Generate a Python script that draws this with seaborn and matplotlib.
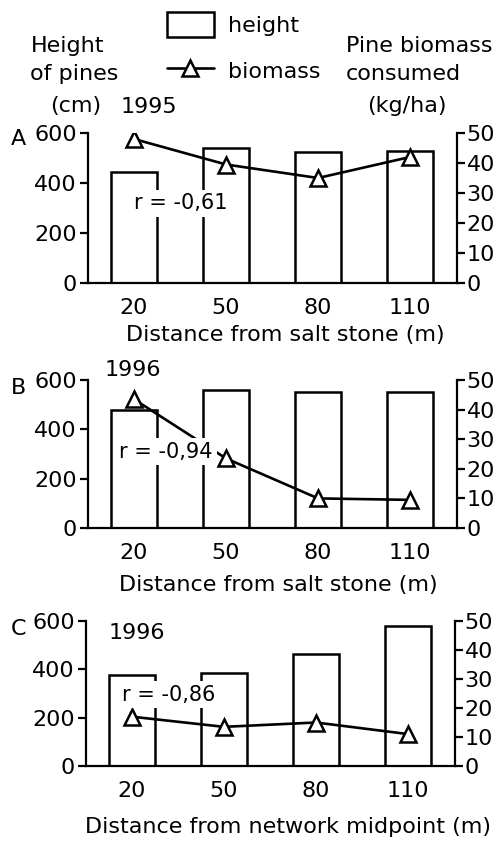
import matplotlib
matplotlib.use("Agg")
import matplotlib.pyplot as plt
import seaborn as sns
import numpy as np
import pandas as pd
from matplotlib.patches import Patch
from matplotlib.lines import Line2D

# DATA
distance = ["20", "50", "80", "110"]
height_a = [445, 540, 525, 530]
biomass_a = [48, 39.5, 35, 42]
height_b = [480, 558, 550, 552]
biomass_b = [43.5, 23.5, 10, 9.5]
height_c = [378, 385, 465, 578]
biomass_c = [17, 13.5, 15, 11]

height_ticks = [0, 200, 400, 600]
biomass_ticks = [0, 10, 20, 30, 40, 50]

sns.set_style("ticks")
plt.rcParams['font.family'] = ['DejaVu Sans']
plt.rcParams.update({"text.color": "black", "axes.labelcolor": "black",
                     "xtick.color": "black", "ytick.color": "black",
                     "axes.edgecolor": "black"})
FS = 16
W, H = 498, 842

fig = plt.figure(figsize=(W / 100, H / 100), dpi=100)


def px_rect(left, right, top, bottom):
    return [left / W, 1 - bottom / H, (right - left) / W, (bottom - top) / H]


panels = [
    dict(letter="A", letter_y=139, year="1995", heights=height_a, biomass=biomass_a,
         r="r = -0,61", xlabel="Distance from salt stone (m)",
         rect=px_rect(88, 457, 133, 283), rpos=(0.252, 0.533), ypos=(0.165, 1.173),
         xlab=(0.536, -0.28)),
    dict(letter="B", letter_y=388, year="1996", heights=height_b, biomass=biomass_b,
         r="r = -0,94", xlabel="Distance from salt stone (m)",
         rect=px_rect(88, 457, 380, 528), rpos=(0.212, 0.514), ypos=(0.122, 1.068),
         xlab=(0.515, -0.318)),
    dict(letter="C", letter_y=629, year="1996", heights=height_c, biomass=biomass_c,
         r="r = -0,86", xlabel="Distance from network midpoint (m)",
         rect=px_rect(86, 455, 621, 766), rpos=(0.225, 0.49), ypos=(0.138, 0.917),
         xlab=(0.547, -0.352)),
]

for p in panels:
    ax = fig.add_axes(p["rect"])
    df = pd.DataFrame({"Distance": distance, "Height": p["heights"]})
    sns.barplot(data=df, x="Distance", y="Height", color="white", edgecolor="black",
                linewidth=1.8, width=0.5, saturation=1, ax=ax)
    ax2 = ax.twinx()
    sns.lineplot(x=np.arange(len(distance)), y=p["biomass"], ax=ax2, color="black",
                 lw=1.9, marker="^", markersize=11, markerfacecolor="white",
                 markeredgecolor="black", markeredgewidth=1.8)

    ax.set_ylim(0, 600)
    ax2.set_ylim(0, 50)
    ax.set_xlim(-0.5, 3.51)
    ax.set_yticks(height_ticks)
    ax2.set_yticks(biomass_ticks)
    ax.set_ylabel("")
    ax2.set_ylabel("")
    ax.set_xlabel(p["xlabel"], fontsize=FS)
    ax.xaxis.set_label_coords(*p["xlab"])

    for a in (ax, ax2):
        a.spines["top"].set_visible(False)
        for s in a.spines.values():
            s.set_linewidth(1.6)
    ax.spines["right"].set_visible(False)
    ax2.spines["left"].set_visible(False)
    ax2.spines["bottom"].set_visible(False)

    ax.tick_params(axis="y", direction="out", length=6, width=1.6, labelsize=FS, pad=2)
    ax.tick_params(axis="x", length=0, labelsize=FS, pad=11)
    ax2.tick_params(axis="y", direction="out", length=6, width=1.6, labelsize=FS, pad=1)

    ax2.text(*p["rpos"], p["r"], transform=ax2.transAxes, ha="center", va="center",
             fontsize=15, zorder=10,
             bbox=dict(facecolor="white", edgecolor="none", pad=2.5))
    ax2.text(*p["ypos"], p["year"], transform=ax2.transAxes, ha="center", va="center",
             fontsize=FS)
    fig.text(11 / W, 1 - p["letter_y"] / H, p["letter"], ha="left", va="center", fontsize=FS)

# axis headers
fig.text(31 / W, 1 - 46 / H, "Height", ha="left", va="center", fontsize=FS)
fig.text(30 / W, 1 - 74 / H, "of pines", ha="left", va="center", fontsize=FS)
fig.text(50 / W, 1 - 106 / H, "(cm)", ha="left", va="center", fontsize=FS)
fig.text(346 / W, 1 - 46 / H, "Pine biomass", ha="left", va="center", fontsize=FS)
fig.text(346 / W, 1 - 74 / H, "consumed", ha="left", va="center", fontsize=FS)
fig.text(367 / W, 1 - 106 / H, "(kg/ha)", ha="left", va="center", fontsize=FS)

handles = [
    Patch(facecolor="white", edgecolor="black", linewidth=1.8, label="height"),
    Line2D([], [], color="black", lw=1.9, marker="^", markersize=11,
           markerfacecolor="white", markeredgecolor="black", markeredgewidth=1.8,
           label="biomass"),
]
fig.legend(handles=handles, loc="upper left", bbox_to_anchor=(167 / W, 1 - 12 / H),
           frameon=False, fontsize=FS, handlelength=2.1, handleheight=1.35,
           handletextpad=0.65, labelspacing=0.95, borderpad=0, borderaxespad=0)

fig.savefig("out.png", dpi=100)
